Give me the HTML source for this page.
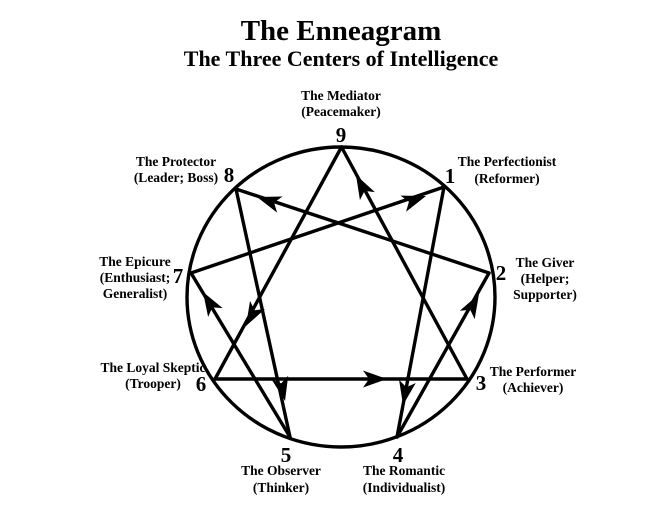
<!DOCTYPE html>
<html><head><meta charset="utf-8"><style>
html,body{margin:0;padding:0;background:#fff;width:672px;height:510px;overflow:hidden}
svg{display:block}
text{font-family:"Liberation Serif",serif;font-weight:bold;fill:#000}
.l{font-size:13.5px}
.n{font-size:21px}
</style></head><body>
<svg id="s" width="672" height="510" viewBox="0 0 672 510">
<text x="341" y="40" text-anchor="middle" style="font-size:29px">The Enneagram</text>
<text x="341" y="66" text-anchor="middle" style="font-size:22px">The Three Centers of Intelligence</text>
<ellipse cx="341" cy="297" rx="154" ry="150" fill="none" stroke="#000" stroke-width="3.4"/>
<g class="l" text-anchor="middle">
<text x="341" y="100">The Mediator</text><text x="341" y="116">(Peacemaker)</text>
<text x="507" y="166">The Perfectionist</text><text x="507" y="183">(Reformer)</text>
<text x="545" y="267">The Giver</text><text x="545" y="283">(Helper;</text><text x="545" y="299">Supporter)</text>
<text x="533" y="376">The Performer</text><text x="533" y="392">(Achiever)</text>
<text x="404" y="475">The Romantic</text><text x="404" y="492">(Individualist)</text>
<text x="281" y="475">The Observer</text><text x="281" y="492">(Thinker)</text>
<text x="153" y="372">The Loyal Skeptic</text><text x="153" y="388">(Trooper)</text>
<text x="135" y="266">The Epicure</text><text x="135" y="282">(Enthusiast;</text><text x="135" y="298">Generalist)</text>
<text x="176" y="166">The Protector</text><text x="176" y="182">(Leader; Boss)</text>
</g>
<g class="n" text-anchor="middle">
<text x="341" y="142">9</text><text x="450" y="183">1</text><text x="501" y="280">2</text>
<text x="481" y="390">3</text><text x="398" y="462">4</text><text x="286" y="462">5</text>
<text x="201" y="391">6</text><text x="178" y="283">7</text><text x="229" y="182">8</text>
</g>
<g id="g" stroke="#000" stroke-width="3.4" fill="none" stroke-linecap="round"></g>
<g id="h" fill="#000"></g>
</svg>
<script>
var P={9:[341.5,147],1:[444,187],2:[489,273],3:[467,379],4:[397,437],5:[290,437],6:[215,379],7:[191,273],8:[236,189]};
var L=[[1,4,[403,405]],[4,2,[479,294]],[2,8,[257,197]],[8,5,[285,401]],[5,7,[203,292]],[7,1,[426,196]],[9,6,[246,326]],[6,3,[387,379]],[3,9,[356,175]]];
var g=document.getElementById('g'),h=document.getElementById('h'),ns='http://www.w3.org/2000/svg';
L.forEach(function(e){var a=P[e[0]],b=P[e[1]];
var l=document.createElementNS(ns,'line');l.setAttribute('x1',a[0]);l.setAttribute('y1',a[1]);l.setAttribute('x2',b[0]);l.setAttribute('y2',b[1]);g.appendChild(l);
var dx=b[0]-a[0],dy=b[1]-a[1],d=Math.hypot(dx,dy);dx/=d;dy/=d;
var t=e[2],len=24,w=8.5;var bx=t[0]-dx*len,by=t[1]-dy*len;
var p=document.createElementNS(ns,'polygon');
p.setAttribute('points',t[0]+','+t[1]+' '+(bx-dy*w)+','+(by+dx*w)+' '+(bx+dx*6)+','+(by+dy*6)+' '+(bx+dy*w)+','+(by-dx*w));h.appendChild(p);});
</script>
</body></html>
